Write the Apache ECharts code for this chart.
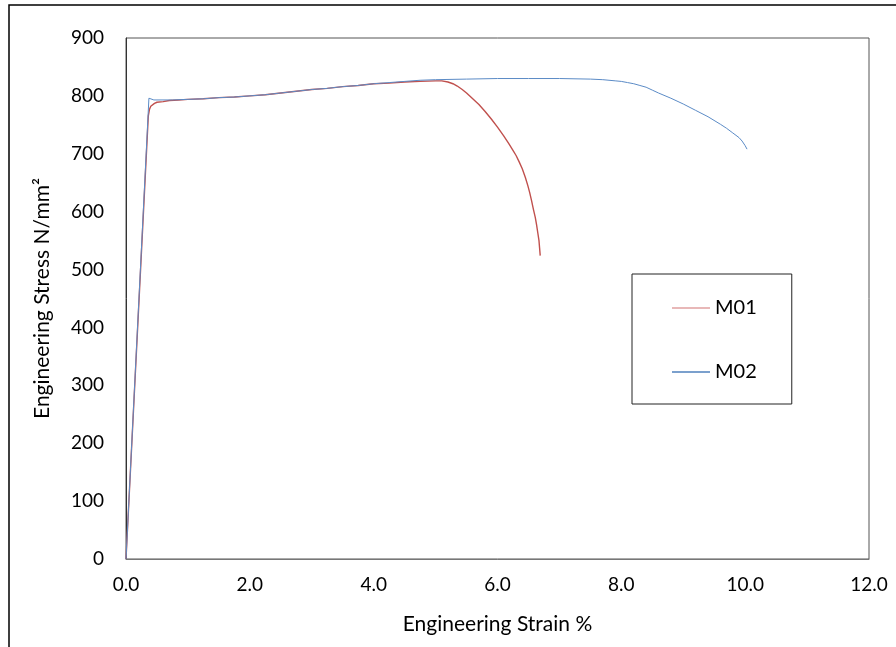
<!DOCTYPE html>
<html>
<head>
<meta charset="utf-8">
<script src="https://cdn.jsdelivr.net/npm/echarts@6/dist/echarts.min.js"></script>
<style>
html,body{margin:0;padding:0;background:#fff;}
#chart{width:896px;height:647px;}
</style>
</head>
<body>
<div id="chart"></div>
<script>
// Strain (%) and stress (N/mm²) for each specimen
var m01Strain = [0, 0.36, 0.38, 0.4, 0.42, 0.46, 0.5, 0.6, 0.7, 0.85, 1.0, 1.25, 1.5, 1.75, 2.0, 2.25, 2.5, 2.75, 3.0, 3.25, 3.5, 3.75, 4.0, 4.25, 4.5, 4.75, 5.0, 5.1, 5.2, 5.28, 5.35, 5.43, 5.5, 5.6, 5.7, 5.8, 5.9, 6.0, 6.1, 6.18, 6.25, 6.3, 6.35, 6.4, 6.45, 6.49, 6.52, 6.55, 6.58, 6.61, 6.63, 6.65, 6.67, 6.68, 6.69];
var m01Stress = [0, 765, 777, 782, 785, 787, 789, 790, 792, 793, 794, 795, 797, 798, 800, 802, 805, 808, 811, 813, 816, 818, 821, 822, 824, 825, 826, 826, 824, 821, 817, 811, 805, 795, 785, 773, 760, 746, 731, 718, 706, 697, 686, 674, 659, 645, 633, 619, 604, 590, 578, 564, 550, 537, 524];
var m02Strain = [0, 0.37, 0.4, 0.45, 0.5, 0.75, 1.0, 1.25, 1.5, 1.75, 2.0, 2.25, 2.5, 2.75, 3.0, 3.25, 3.5, 3.75, 4.0, 4.25, 4.5, 4.75, 5.0, 5.5, 6.0, 6.5, 7.0, 7.5, 7.7, 7.9, 8.0, 8.1, 8.2, 8.3, 8.4, 8.5, 8.6, 8.8, 9.0, 9.2, 9.4, 9.6, 9.7, 9.8, 9.9, 9.95, 10.0, 10.03];
var m02Stress = [0, 796, 794, 793, 793, 793, 794, 795, 797, 798, 800, 802, 805, 808, 811, 813, 816, 818, 821, 823, 825, 827, 828, 829, 830, 830, 830, 829, 828, 826, 825, 823, 821, 818, 815, 810, 805, 796, 786, 775, 764, 751, 744, 736, 728, 722, 714, 708];
var seriesNames = ['M01', 'M02'];
var xTitle = 'Engineering Strain %';
var yTitle = 'Engineering Stress N/mm²';

function zip(a, b) { return a.map(function (v, i) { return [v, b[i]]; }); }

var FONT = 'Lato';
var chart = echarts.init(document.getElementById('chart'), null, {renderer: 'canvas'});
chart.setOption({
  animation: false,
  backgroundColor: '#fff',
  textStyle: {fontFamily: FONT},
  graphic: [{
    type: 'rect', shape: {x: 9, y: 5, width: 900, height: 660},
    style: {fill: 'none', stroke: '#000', lineWidth: 1.5}, z: 0
  }],
  grid: {left: 126, right: 27, top: 38, bottom: 88, show: true, borderColor: '#555', borderWidth: 1},
  legend: {
    orient: 'vertical', left: 632, top: 274,
    padding: [24, 35, 22, 40], itemGap: 44,
    itemWidth: 38, itemHeight: 1.5, icon: 'rect',
    borderColor: '#222', borderWidth: 1,
    textStyle: {fontFamily: FONT, fontSize: 20, color: '#000'},
    data: seriesNames
  },
  xAxis: {
    type: 'value', min: 0, max: 12, interval: 2,
    name: xTitle, nameLocation: 'middle', nameGap: 55,
    nameTextStyle: {fontFamily: FONT, fontSize: 21, color: '#000'},
    axisLine: {show: true, lineStyle: {color: '#777', width: 1}},
    axisTick: {show: false},
    splitLine: {show: false},
    axisLabel: {fontFamily: FONT, fontSize: 19, color: '#000', margin: 16, formatter: function (v) { return v.toFixed(1); }}
  },
  yAxis: {
    type: 'value', min: 0, max: 900, interval: 100,
    name: yTitle, nameLocation: 'middle', nameGap: 73, nameRotate: 90,
    nameTextStyle: {fontFamily: FONT, fontSize: 21, color: '#000'},
    axisLine: {show: true, lineStyle: {color: '#333', width: 1}},
    axisTick: {show: false},
    splitLine: {show: false},
    axisLabel: {fontFamily: FONT, fontSize: 19, color: '#000', margin: 22}
  },
  series: [
    {name: seriesNames[0], type: 'line', data: zip(m01Strain, m01Stress), showSymbol: false, symbol: 'none',
     lineStyle: {color: '#C0504D', width: 1.4}, itemStyle: {color: '#E0A0A0'}},
    {name: seriesNames[1], type: 'line', data: zip(m02Strain, m02Stress), showSymbol: false, symbol: 'none',
     lineStyle: {color: '#5B8BC6', width: 1}, itemStyle: {color: '#4F81BD'}}
  ]
});
</script>
</body>
</html>
